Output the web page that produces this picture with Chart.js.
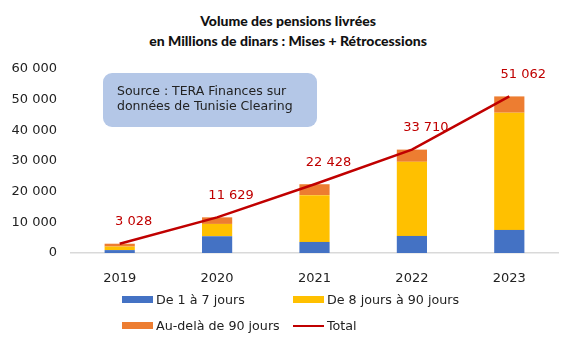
<!DOCTYPE html>
<html>
<head>
<meta charset="utf-8">
<script src="https://cdn.jsdelivr.net/npm/chart.js@4"></script>
<style>
body{margin:0;background:#fff;}
#wrap{position:relative;width:576px;height:346px;font-family:"DejaVu Sans",sans-serif;}
#title{position:absolute;left:0;top:11px;width:576px;text-align:center;font-family:Lato,sans-serif;font-weight:900;font-size:14px;line-height:20px;color:#111;}
#legend{position:absolute;left:122px;top:292px;width:360px;font-size:12.7px;color:#222;}
.item{position:absolute;display:flex;align-items:center;white-space:nowrap;}
.sw{width:31px;margin-right:3px;}
canvas{position:absolute;left:0;top:0;}
</style>
</head>
<body>
<div id="wrap">
<div id="title">Volume des pensions livrées<br>en Millions de dinars : Mises + Rétrocessions</div>
<canvas id="chart" width="576" height="346"></canvas>
<div id="legend"></div>
</div>
<script>

/* DATA */

const years = ["2019","2020","2021","2022","2023"];
const court = [950, 5460, 3600, 5560, 7520];
const moyen = [1150, 4020, 15260, 24180, 38230];
const long = [928, 2149, 3568, 3970, 5312];
const total = [3028, 11629, 22428, 33710, 51062];
const yTicks = [0, 10000, 20000, 30000, 40000, 50000, 60000];

const fmt = v => String(v).replace(/\B(?=(\d{3})+(?!\d))/g," ");


/* PLUGINS */

const sourceBox = {
id:"sourceBox",
afterDraw(c){
const g=c.ctx;
g.save();
g.fillStyle="#B4C7E7";
g.beginPath();
g.roundRect(103,73,214,54,9);
g.fill();
g.fillStyle="#222";
g.font='12.5px "DejaVu Sans"';
g.textBaseline="middle";
g.fillText("Source : TERA Finances sur",117,92);
g.fillText("données de Tunisie Clearing",117,107);
g.restore();
}
};

const totalLabels = {
id:"totalLabels",
afterDatasetsDraw(c){
const g=c.ctx;
const meta=c.getDatasetMeta(3);
g.save();
g.fillStyle="#C00000";
g.font='13px "DejaVu Sans"';
g.textAlign="center";
g.textBaseline="middle";
meta.data.forEach((p,i)=>{
g.fillText(fmt(total[i]),p.x+14,p.y-22);
});
g.restore();
}
};


/* CHART */

const chart = new Chart(document.getElementById("chart"),{
type:"bar",
data:{
labels:years,
datasets:[
{label:"De 1 à 7 jours",data:court,backgroundColor:"#4472C4",order:2},
{label:"De 8 jours à 90 jours",data:moyen,backgroundColor:"#FFC000",order:2},
{label:"Au-delà de 90 jours",data:long,backgroundColor:"#ED7D31",order:2},
{label:"Total",type:"line",data:total,borderColor:"#C00000",backgroundColor:"#C00000",borderWidth:2.5,pointRadius:0,tension:0,order:1}
]
},
options:{
responsive:false,
animation:false,
layout:{padding:{top:69,right:18,left:0,bottom:0}},
plugins:{legend:{display:false},tooltip:{enabled:false}},
datasets:{bar:{barPercentage:0.62,categoryPercentage:0.5}},
scales:{
x:{
stacked:true,
grid:{display:false},
border:{color:"#D9D9D9",width:1.5},
ticks:{color:"#222",font:{family:"DejaVu Sans",size:13},padding:10},
afterFit(s){s.height=93;}
},
y:{
stacked:true,
min:0,max:60000,
grid:{display:false},
border:{display:false},
afterBuildTicks(s){s.ticks=yTicks.map(v=>({value:v}));},
ticks:{color:"#222",font:{family:"DejaVu Sans",size:13},padding:6,callback:v=>fmt(v)},
afterFit(s){s.width=71;}
}
}
},
plugins:[sourceBox,totalLabels]
});


/* LEGEND */

const pos=[[0,0],[171,0],[0,26],[171,26]];
const leg=document.getElementById("legend");
chart.data.datasets.forEach((d,i)=>{
const it=document.createElement("div");
it.className="item";
it.style.left=pos[i][0]+"px";
it.style.top=pos[i][1]+"px";
const sw=document.createElement("span");
sw.className="sw";
sw.style.height=d.type==="line"?"2px":"7px";
sw.style.background=d.type==="line"?d.borderColor:d.backgroundColor;
it.appendChild(sw);
it.appendChild(document.createTextNode(d.label));
leg.appendChild(it);
});

</script>
</body>
</html>
